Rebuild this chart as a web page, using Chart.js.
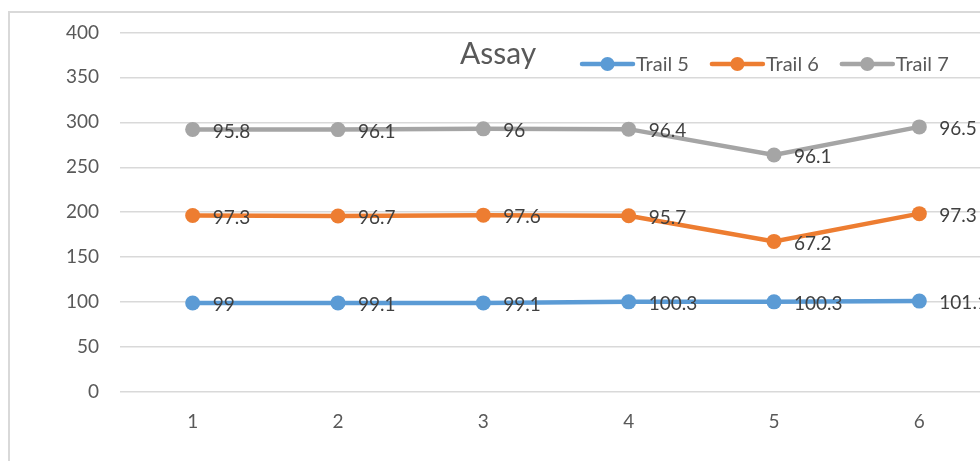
<!DOCTYPE html>
<html>
<head>
<meta charset="utf-8">
<script src="https://cdn.jsdelivr.net/npm/chart.js@4/dist/chart.umd.min.js"></script>
<style>
  html, body { margin: 0; padding: 0; background: #fff; overflow: hidden; }
  #frame { position: absolute; left: 8px; top: 11px; width: 1000px; height: 500px;
           border-left: 2px solid #d9d9d9; border-top: 2px solid #d9d9d9; }
  #chart { position: absolute; left: 0; top: 0; }
</style>
</head>
<body>
<div id="frame"></div>
<canvas id="chart" width="1000" height="461"></canvas>
<script>
(function () {
    'use strict';

    // data (stacked line, labels show raw values)
    var categories = ['1', '2', '3', '4', '5', '6'];
    var trail5 = [99, 99.1, 99.1, 100.3, 100.3, 101.1];
    var trail6 = [97.3, 96.7, 97.6, 95.7, 67.2, 97.3];
    var trail7 = [95.8, 96.1, 96, 96.4, 96.1, 96.5];
    var yTicks = [0, 50, 100, 150, 200, 250, 300, 350, 400];

    var FONT = 'Lato, "Open Sans", sans-serif';
    var AXIS_TEXT = '#595959';
    var LABEL_TEXT = '#404040';
    var GRID = '#d9d9d9';

    function series(label, data, color) {
        return {
            label: label,
            data: data,
            borderColor: color,
            backgroundColor: color,
            borderWidth: 4.5,
            pointRadius: 7.5,
            pointHoverRadius: 7.5,
            pointBorderWidth: 0,
            tension: 0,
            fill: false
        };
    }

    // value labels to the right of each point
    var valueLabels = {
        id: 'valueLabels',
        afterDatasetsDraw: function (chart) {
            var ctx = chart.ctx;
            ctx.save();
            ctx.font = '19px ' + FONT;
            ctx.fillStyle = LABEL_TEXT;
            ctx.textAlign = 'left';
            ctx.textBaseline = 'middle';
            chart.data.datasets.forEach(function (ds, i) {
                var meta = chart.getDatasetMeta(i);
                meta.data.forEach(function (pt, j) {
                    ctx.fillText(String(ds.data[j]), pt.x + 20, pt.y + 2);
                });
            });
            ctx.restore();
        }
    };

    // title + legend sit together in one row, inside the plot top
    var titleLegend = {
        id: 'titleLegend',
        afterDraw: function (chart) {
            var ctx = chart.ctx;
            ctx.save();
            ctx.textBaseline = 'middle';
            ctx.textAlign = 'left';
            ctx.fillStyle = AXIS_TEXT;
            ctx.font = '30px ' + FONT;
            ctx.fillText('Assay', 460, 54);

            ctx.font = '20px ' + FONT;
            var x = 582, y = 64;
            chart.data.datasets.forEach(function (ds) {
                ctx.strokeStyle = ds.borderColor;
                ctx.lineWidth = 4.5;
                ctx.lineCap = 'round';
                ctx.beginPath();
                ctx.moveTo(x, y);
                ctx.lineTo(x + 51, y);
                ctx.stroke();
                ctx.fillStyle = ds.borderColor;
                ctx.beginPath();
                ctx.arc(x + 25.5, y, 7, 0, Math.PI * 2);
                ctx.fill();
                ctx.fillStyle = AXIS_TEXT;
                ctx.fillText(ds.label, x + 54, y + 1);
                x += 54 + ctx.measureText(ds.label).width + 23;
            });
            ctx.restore();
        }
    };

    new Chart(document.getElementById('chart'), {
        type: 'line',
        data: {
            labels: categories,
            datasets: [
                series('Trail 5', trail5, '#5b9bd5'),
                series('Trail 6', trail6, '#ed7d31'),
                series('Trail 7', trail7, '#a5a5a5')
            ]
        },
        options: {
            responsive: false,
            animation: false,
            layout: { padding: { top: 30, right: 8, bottom: 0, left: 0 } },
            plugins: {
                legend: { display: false },
                title: { display: false },
                tooltip: { enabled: false }
            },
            scales: {
                x: {
                    offset: true,
                    grid: { display: false, drawTicks: false },
                    border: { display: false },
                    ticks: { color: AXIS_TEXT, font: { family: FONT, size: 19 }, padding: 18 },
                    afterFit: function (axis) { axis.height = 69; }
                },
                y: {
                    stacked: true,
                    min: 0,
                    max: 400,
                    afterBuildTicks: function (axis) {
                        axis.ticks = yTicks.map(function (v) { return { value: v }; });
                    },
                    grid: { color: GRID, lineWidth: 1.5, drawTicks: false },
                    border: { display: false },
                    ticks: { color: AXIS_TEXT, font: { family: FONT, size: 19 }, padding: 21 },
                    afterFit: function (axis) { axis.width = 120; }
                }
            }
        },
        plugins: [valueLabels, titleLegend]
    });
})();
</script>
</body>
</html>
